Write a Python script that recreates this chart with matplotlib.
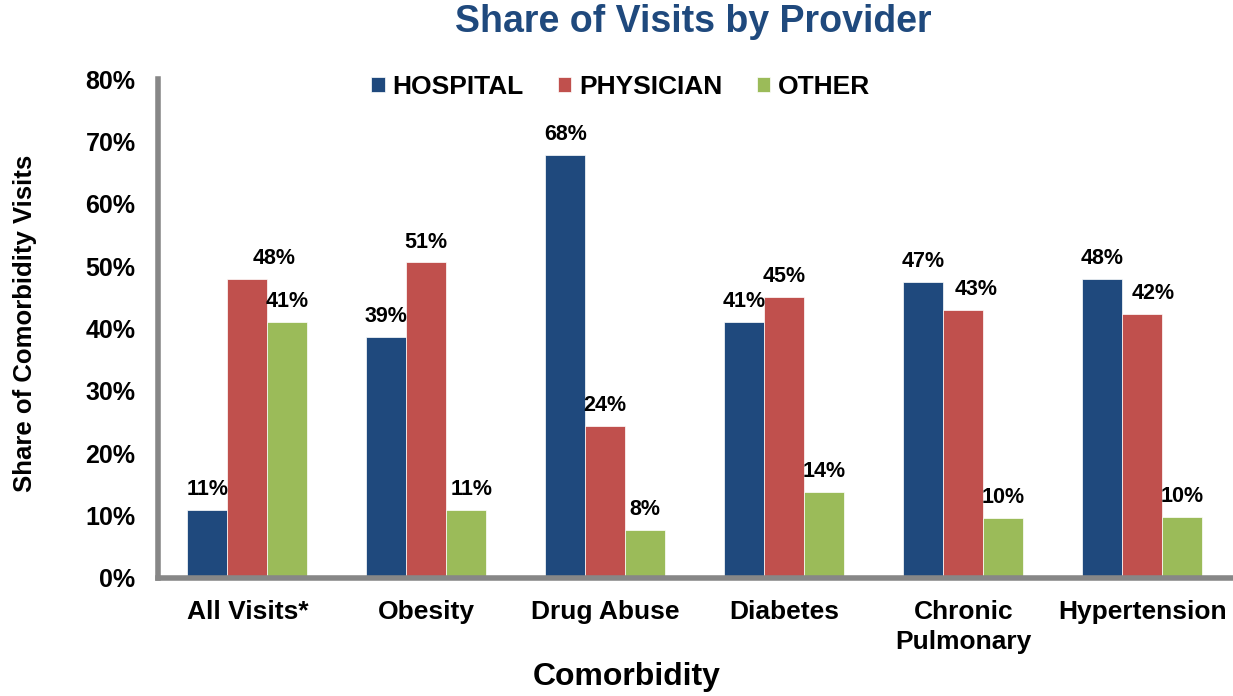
import matplotlib.pyplot as plt
import numpy as np

plt.rcParams['font.family'] = ['Liberation Sans', 'DejaVu Sans']
plt.rcParams['font.weight'] = 'bold'

categories = ["All Visits*", "Obesity", "Drug Abuse", "Diabetes", "Chronic\nPulmonary", "Hypertension"]
hospital = [10.9, 38.6, 67.9, 41.1, 47.4, 47.9]
physician = [47.9, 50.6, 24.3, 45.1, 42.9, 42.4]
other = [41.0, 10.8, 7.6, 13.7, 9.6, 9.7]
series = [("HOSPITAL", hospital, "#1F497D"),
          ("PHYSICIAN", physician, "#C0504D"),
          ("OTHER", other, "#9BBB59")]
# small sideways nudges of the value labels (as placed in the original)
label_nudge = {(1, 0): 0.15, (1, 4): 0.07, (1, 5): 0.06, (2, 1): 0.03}

fig = plt.figure(figsize=(12.33, 6.96), dpi=100)
ax = fig.add_axes([0.128, 0.170, 0.871, 0.716])

x = np.arange(len(categories))
w = 0.223
for i, (name, vals, col) in enumerate(series):
    pos = x + (i - 1) * w
    bars = ax.bar(pos, vals, w, color=col, label=name, edgecolor='white', linewidth=0.5)
    for j, (b, v) in enumerate(zip(bars, vals)):
        dx = label_nudge.get((i, j), 0)
        ax.text(b.get_x() + b.get_width() / 2 + dx, v + 1.6, f"{round(v):d}%",
                ha='center', va='bottom', fontsize=15.5, fontweight='bold')

ax.set_xlim(-0.5, len(categories) - 0.5)
ax.set_ylim(0, 80)
ax.set_yticks(range(0, 81, 10))
ax.set_yticklabels([f"{t}%" for t in range(0, 81, 10)], fontsize=18, fontweight='bold')
ax.set_xticks(x)
ax.set_xticklabels(categories, fontsize=19, fontweight='bold', linespacing=1.3)
ax.tick_params(axis='y', length=0, pad=16)
ax.tick_params(axis='x', length=0, pad=16)

for s in ['top', 'right']:
    ax.spines[s].set_visible(False)
for s in ['left', 'bottom']:
    ax.spines[s].set_color('#878787')
    ax.spines[s].set_linewidth(4)

ax.legend(loc='center', bbox_to_anchor=(0.431, 0.984), ncol=3, frameon=False,
          handlelength=0.5, handleheight=0.5, handletextpad=0.3,
          columnspacing=1.3, prop={'weight': 'bold', 'size': 19})

fig.text(0.562, 0.968, "Share of Visits by Provider", ha='center', va='center',
         fontsize=27, fontweight='bold', color='#1F497D')
fig.text(0.508, 0.027, "Comorbidity", ha='center', va='center',
         fontsize=23, fontweight='bold')
fig.text(0.020, 0.536, "Share of Comorbidity Visits", ha='center', va='center',
         rotation=90, fontsize=18.5, fontweight='bold')

fig.savefig("out.png", dpi=100)
